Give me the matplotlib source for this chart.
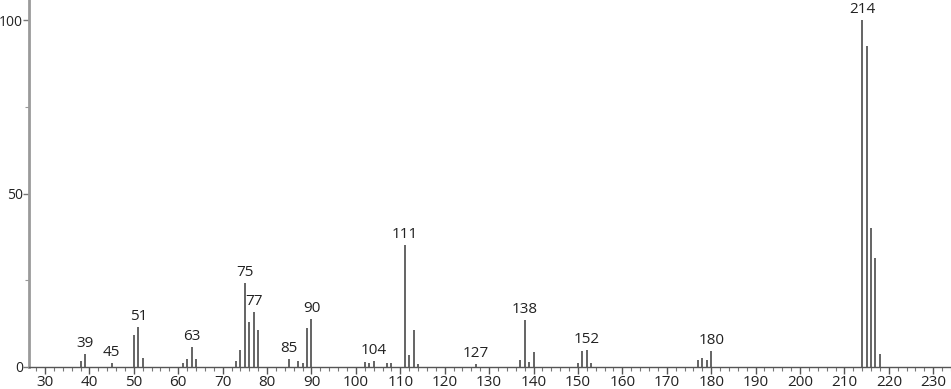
import matplotlib
matplotlib.use("Agg")
import matplotlib.pyplot as plt
from matplotlib.ticker import MultipleLocator

mz = [38, 39, 45, 50, 51, 52, 61, 62, 63, 64, 73, 74, 75, 76, 77, 78, 85, 87, 88, 89, 90,
      102, 103, 104, 107, 108, 111, 112, 113, 114, 127, 137, 138, 139, 140,
      150, 151, 152, 153, 177, 178, 179, 180, 214, 215, 216, 217, 218]
intensity = [1.8, 3.7, 1.2, 9.2, 11.6, 2.7, 1.1, 2.2, 5.7, 2.2, 1.7, 4.9, 24.3, 13.1, 15.9, 10.7,
             2.3, 1.7, 1.1, 11.1, 13.8,
             1.5, 1.1, 1.7, 1.1, 1.2, 35.2, 3.4, 10.7, 0.9, 0.8, 2.0, 13.5, 1.5, 4.2,
             1.2, 4.6, 4.9, 1.2, 2.0, 2.7, 2.0, 4.6, 100.0, 92.5, 40.0, 31.5, 3.7]
labeled = [39, 45, 51, 63, 75, 77, 85, 90, 104, 111, 127, 138, 152, 180, 214]
xticks = list(range(30, 231, 10))
yticks = [0, 50, 100]

plt.rcParams['font.family'] = ['Open Sans', 'DejaVu Sans']

fig = plt.figure(figsize=(9.51, 3.89), dpi=100)
ax = fig.add_axes([29/951, 22/389, 922/951, 367/389])

ax.vlines(mz, 0, intensity, colors='#4a4a4a', linewidth=1.2)

lookup = dict(zip(mz, intensity))
for m in labeled:
    ax.annotate(str(m), (m, lookup[m]), xytext=(0, 2), textcoords='offset points',
                ha='center', va='bottom', fontsize=11, color='#222222')

ax.set_xlim(26.4, 234.0)
ax.set_ylim(0, 105.8)
ax.set_xticks(xticks)
ax.xaxis.set_minor_locator(MultipleLocator(2))
ax.set_yticks(yticks)
ax.yaxis.set_minor_locator(MultipleLocator(25))

for s in ['top', 'right']:
    ax.spines[s].set_visible(False)
ax.spines['left'].set_color('#9a9a9a')
ax.spines['left'].set_linewidth(2)
ax.spines['bottom'].set_color('#555555')
ax.spines['bottom'].set_linewidth(1)

ax.tick_params(axis='x', which='major', length=5, width=1, color='#555555',
               labelsize=11, labelcolor='#222222', pad=1)
ax.tick_params(axis='x', which='minor', length=3, width=0.8, color='#777777')
ax.tick_params(axis='y', which='major', length=4, width=1, color='#777777',
               labelsize=10, labelcolor='#222222', pad=0.5)
ax.tick_params(axis='y', which='minor', length=3, width=0.8, color='#999999')

fig.savefig('out.png', dpi=100)
